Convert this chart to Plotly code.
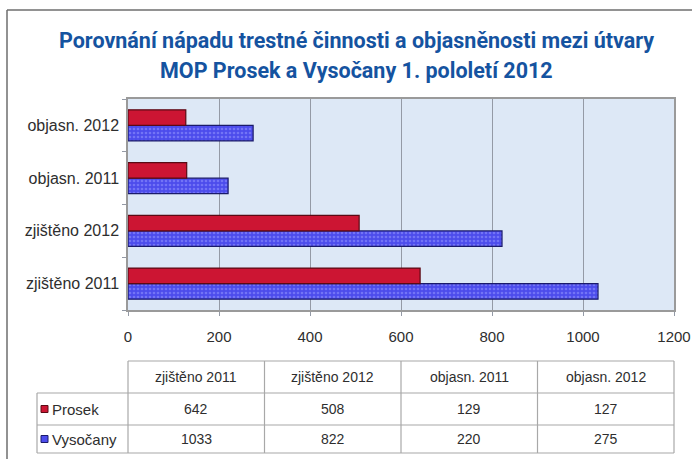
import plotly.graph_objects as go

categories = ["zjištěno 2011", "zjištěno 2012", "objasn. 2011", "objasn. 2012"]
prosek = [642, 508, 129, 127]
vysocany = [1033, 822, 220, 275]
series_names = ["Prosek", "Vysočany"]
x_ticks = [0, 200, 400, 600, 800, 1000, 1200]

title_lines = ["Porovnání nápadu trestné činnosti a objasněnosti mezi útvary",
               "MOP Prosek a Vysočany 1. pololetí 2012"]

W, H = 692, 459
L, R, T, B = 128, 674, 99, 310  # plot area in pixels


def px(xp):
    return (xp - L) / (R - L)


def py(yp):
    return (B - yp) / (B - T)


RED = "#cc1533"
BLUE = "#4c4cec"
TXT = "#2e2e2e"
LINE = "#a8a8a8"
FONT = "Liberation Sans, Arial, sans-serif"
TFONT = "Roboto, Liberation Sans, Arial, sans-serif"

fig = go.Figure()
fig.add_trace(go.Bar(
    y=categories, x=vysocany, name=series_names[1], orientation="h",
    marker=dict(color=BLUE, line=dict(color="#1a1a6a", width=1.2),
                pattern=dict(shape=".", size=4, solidity=0.35, fgcolor="#9a9cff", bgcolor=BLUE)),
))
fig.add_trace(go.Bar(
    y=categories, x=prosek, name=series_names[0], orientation="h",
    marker=dict(color=RED, line=dict(color="#5a0a14", width=1.2)),
))

fig.update_layout(
    width=W, height=H,
    margin=dict(l=L, r=W - R, t=T, b=H - B, autoexpand=False),
    paper_bgcolor="white",
    plot_bgcolor="#dde8f6",
    barmode="group", bargap=0.41, bargroupgap=0,
    showlegend=False,
    font=dict(family=FONT, color=TXT, size=13),
)
fig.update_xaxes(
    range=[0, 1200], tickvals=x_ticks, showgrid=True, gridcolor="#949aa6", gridwidth=1,
    showline=True, linecolor="#9a9a9a", mirror=True, linewidth=1.5,
    ticks="outside", ticklen=4, tickcolor="#949aa6",
    tickfont=dict(size=15, color=TXT), ticklabelstandoff=8, zeroline=False,
)
fig.update_yaxes(
    categoryorder="array", categoryarray=categories,
    showline=True, linecolor="#9a9a9a", mirror=True, linewidth=1.5,
    ticks="outside", ticklen=4, tickcolor="#949aa6", tickson="boundaries",
    tickfont=dict(size=16, color=TXT), ticklabelstandoff=4, showgrid=False,
)

shapes = []
annotations = []

# title (two lines)
for line, yc in zip(title_lines, (40, 70)):
    annotations.append(dict(text="<b>" + line + "</b>", xref="paper", yref="paper",
                            x=px(356), y=py(yc), showarrow=False, xanchor="center", yanchor="middle",
                            font=dict(family=TFONT, size=21.5, color="#1553a0")))

# outer frame (top and left)
shapes.append(dict(type="line", xref="paper", yref="paper", x0=px(7), x1=px(692), y0=py(10), y1=py(10),
                   line=dict(color="#6e6e6e", width=1.5)))
shapes.append(dict(type="line", xref="paper", yref="paper", x0=px(7), x1=px(7), y0=py(10), y1=py(459),
                   line=dict(color="#6e6e6e", width=1.5)))

# data table
hdr_top, r1, r2, bot = 361, 393, 425, 453
lab_left = 37
ncol = len(categories)
col_edges = [L + (R - L) * i / ncol for i in range(ncol + 1)]
for xe in col_edges:
    shapes.append(dict(type="line", xref="paper", yref="paper", x0=px(xe), x1=px(xe),
                       y0=py(hdr_top), y1=py(bot), line=dict(color=LINE, width=1.2)))
shapes.append(dict(type="line", xref="paper", yref="paper", x0=px(lab_left), x1=px(lab_left),
                   y0=py(r1), y1=py(bot), line=dict(color=LINE, width=1.2)))
shapes.append(dict(type="line", xref="paper", yref="paper", x0=px(L), x1=px(R),
                   y0=py(hdr_top), y1=py(hdr_top), line=dict(color=LINE, width=1.2)))
for yy in (r1, r2, bot):
    shapes.append(dict(type="line", xref="paper", yref="paper", x0=px(lab_left), x1=px(R),
                       y0=py(yy), y1=py(yy), line=dict(color=LINE, width=1.2)))

for i, c in enumerate(categories):
    xc = (col_edges[i] + col_edges[i + 1]) / 2
    annotations.append(dict(text=c, xref="paper", yref="paper", x=px(xc), y=py((hdr_top + r1) / 2),
                            showarrow=False, xanchor="center", yanchor="middle",
                            font=dict(size=14, color=TXT)))

rows = [(series_names[0], prosek, RED, "#5a0a14", r1, r2),
        (series_names[1], vysocany, BLUE, "#1a1a6a", r2, bot)]
for name, vals, col, edge, ya, yb in rows:
    yc = (ya + yb) / 2
    shapes.append(dict(type="rect", xref="paper", yref="paper", x0=px(41), x1=px(48),
                       y0=py(yc - 3.5), y1=py(yc + 3.5), fillcolor=col, line=dict(color=edge, width=1)))
    annotations.append(dict(text=name, xref="paper", yref="paper", x=px(50), y=py(yc),
                            showarrow=False, xanchor="left", yanchor="middle",
                            font=dict(size=15, color=TXT)))
    for i, v in enumerate(vals):
        xc = (col_edges[i] + col_edges[i + 1]) / 2
        annotations.append(dict(text=str(v), xref="paper", yref="paper", x=px(xc), y=py(yc),
                                showarrow=False, xanchor="center", yanchor="middle",
                                font=dict(size=14, color=TXT)))

fig.update_layout(shapes=shapes, annotations=annotations)
fig.write_html("out.html", config={"displayModeBar": False},
               post_script="document.body.style.margin='0';document.body.style.overflow='hidden';")
